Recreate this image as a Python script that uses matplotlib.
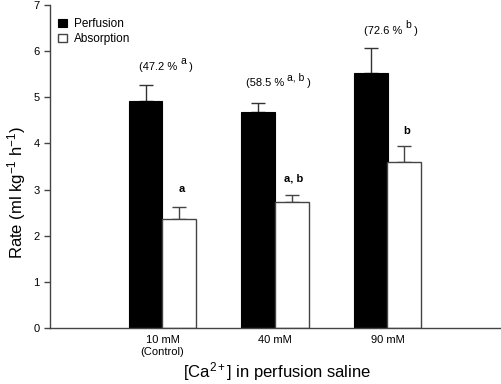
import matplotlib
matplotlib.use("Agg")
import matplotlib.pyplot as plt
from matplotlib.transforms import offset_copy
import numpy as np

plt.rcParams['font.family'] = ['Liberation Sans', 'DejaVu Sans']
plt.rcParams['mathtext.fontset'] = 'custom'
plt.rcParams['mathtext.rm'] = 'Liberation Sans'
plt.rcParams['mathtext.it'] = 'Liberation Sans'
plt.rcParams['mathtext.bf'] = 'Liberation Sans:bold'

categories = ["10 mM\n(Control)", "40 mM", "90 mM"]
perfusion = [4.92, 4.69, 5.53]
perfusion_err = [0.35, 0.19, 0.54]
absorption = [2.36, 2.74, 3.59]
absorption_err = [0.27, 0.15, 0.36]
pct_main = ["(47.2 % ", "(58.5 % ", "(72.6 % "]
pct_sup = ["a", "a, b", "b"]
pct_y = [5.66, 5.31, 6.44]
sig_labels = ["a", "a, b", "b"]
sig_y = [3.02, 3.24, 4.27]

W, H = 502, 384
fig = plt.figure(figsize=(W/100, H/100), dpi=100)
ax = fig.add_axes([50/W, 1-328/H, 450/W, 323/H])

x = np.arange(1, len(categories) + 1)
w = 0.3
ax.bar(x - w/2, perfusion, w, color='black', edgecolor='black', linewidth=0.8,
       label='Perfusion', zorder=2)
ax.errorbar(x - w/2, perfusion, yerr=[np.zeros(3), perfusion_err], fmt='none',
            ecolor='#333333', elinewidth=1.0, capsize=5, capthick=1.0, zorder=1)
ax.bar(x + w/2, absorption, w, color='white', edgecolor='#444444', linewidth=1.0,
       label='Absorption', zorder=2)
ax.errorbar(x + w/2, absorption, yerr=[np.zeros(3), absorption_err], fmt='none',
            ecolor='#444444', elinewidth=1.0, capsize=5, capthick=1.0, zorder=1)

ax.set_xlim(0, 4)
ax.set_ylim(0, 7)

renderer = fig.canvas.get_renderer()
for xi, m, s, yy in zip(x, pct_main, pct_sup, pct_y):
    t1 = ax.text(0, yy, m, ha='left', va='center', fontsize=8)
    w1 = t1.get_window_extent(renderer).width
    t2 = ax.text(0, yy, s, ha='left', va='center', fontsize=7.5)
    w2 = t2.get_window_extent(renderer).width
    t3 = ax.text(0, yy, " )", ha='left', va='center', fontsize=8)
    w3 = t3.get_window_extent(renderer).width
    total = w1 + w2 + w3
    cx = ax.transData.transform((xi + 0.03, yy))[0]
    left_data = ax.transData.inverted().transform((cx - total/2, 0))[0]
    t1.set_x(left_data)
    t2.set_x(left_data); t2.set_transform(offset_copy(ax.transData, fig=fig, x=w1*72/100, y=4, units='points'))
    t3.set_x(left_data); t3.set_transform(offset_copy(ax.transData, fig=fig, x=(w1+w2)*72/100, y=0, units='points'))

for xi, t, yy in zip(x, sig_labels, sig_y):
    ax.text(xi + w/2 + 0.02, yy, t, ha='center', va='center', fontsize=8, fontweight='bold')

ax.set_yticks(range(0, 8))
ax.set_xticks(x)
ax.set_xticklabels(categories, fontsize=8)
ax.tick_params(axis='y', labelsize=8, length=4, width=1, color='#444444')
ax.tick_params(axis='x', length=0, pad=5)
for sp in ['top', 'right']:
    ax.spines[sp].set_visible(False)
for sp in ['left', 'bottom']:
    ax.spines[sp].set_color('#444444')
    ax.spines[sp].set_linewidth(1.0)

fig.text(17/W, 1-192/H, r"Rate (ml kg$^{-1}$ h$^{-1}$)", fontsize=12,
         rotation=90, ha='center', va='center')
fig.text(277/W, 1-372/H, r"[Ca$^{2+}$] in perfusion saline", fontsize=12,
         ha='center', va='center')

leg = ax.legend(loc='upper left', bbox_to_anchor=(0.0, 0.985), frameon=False,
                fontsize=8.5, handlelength=0.75, handleheight=0.75, handletextpad=0.6,
                labelspacing=0.25, borderaxespad=0.3)

fig.savefig("out.png", dpi=100)
